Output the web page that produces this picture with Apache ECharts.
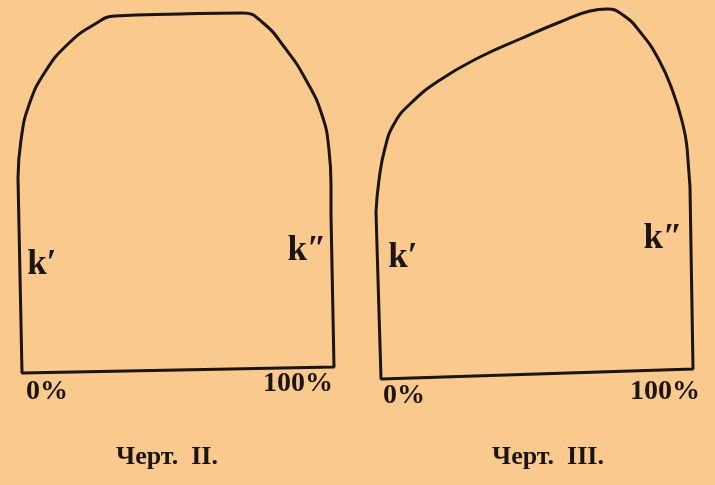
<!DOCTYPE html>
<html>
<head>
<meta charset="utf-8">
<script src="https://cdn.jsdelivr.net/npm/echarts@6/dist/echarts.min.js"></script>
<style>
html,body{margin:0;padding:0;background:#F9C98E;}
#c{width:715px;height:485px;}
</style>
</head>
<body>
<div id="c"></div>
<script>
// Outline of Черт. II (drawing units = page units, y downwards)
var curveII = [[18,178],[21,140],[29,105],[45,72],[68,44],[95,24],[115,16],[180,14],[243,13],[262,22],[285,48],[306,80],[322,115],[329,150],[331,185],[331,215]];
var sidesII = [[331,215],[334,367],[22,373],[18,178]];
// Outline of Черт. III
var curveIII = [[376,212],[379,180],[385,148],[394,124],[410,104],[440,80],[480,57],[520,39],[560,22],[590,11],[607,9],[623,15],[641,33],[659,60],[673,92],[683,125],[687,147]];
var sidesIII = [[687,147],[690,187],[693,369],[381,379],[376,212]];

var labelTexts = ["k\u2032","k\u2033","k\u2032","k\u2033"];
var pctTexts = ["0%","100%","0%","100%"];
var captions = ["Черт.  II.","Черт.  III."];

var chart = echarts.init(document.getElementById('c'));
var lineStyle = {color:'#1c1410', width:3};
function mk(data, smooth){
  return {type:'line', data:data, smooth:smooth, showSymbol:false, symbol:'none',
          lineStyle:lineStyle, animation:false, silent:true};
}
var serif = '"Liberation Serif","DejaVu Serif",serif';
function t(text, x, y, size){
  return {type:'text', x:x, y:y, style:{text:text, fill:'#1c1410', font:'bold '+size+'px '+serif, align:'center', verticalAlign:'middle'}};
}
chart.setOption({
  backgroundColor:'#F9C98E',
  animation:false,
  grid:{left:0,right:0,top:0,bottom:0},
  xAxis:{type:'value',min:0,max:715,show:false},
  yAxis:{type:'value',min:0,max:485,inverse:true,show:false},
  series:[mk(curveII,0.5), mk(sidesII,false), mk(curveIII,0.5), mk(sidesIII,false)],
  graphic:[
    {type:'group', children:[
      t(labelTexts[0], 42, 265, 35),
      t(labelTexts[1], 307, 251, 35),
      t(labelTexts[2], 403, 258, 35),
      t(labelTexts[3], 663, 239, 35),
      t(pctTexts[0], 47, 392, 28),
      t(pctTexts[1], 298, 384, 28),
      t(pctTexts[2], 404, 396, 28),
      t(pctTexts[3], 665, 392, 28),
      t(captions[0], 167, 457, 26),
      t(captions[1], 548, 457, 26)
    ]}
  ]
});
</script>
</body>
</html>
